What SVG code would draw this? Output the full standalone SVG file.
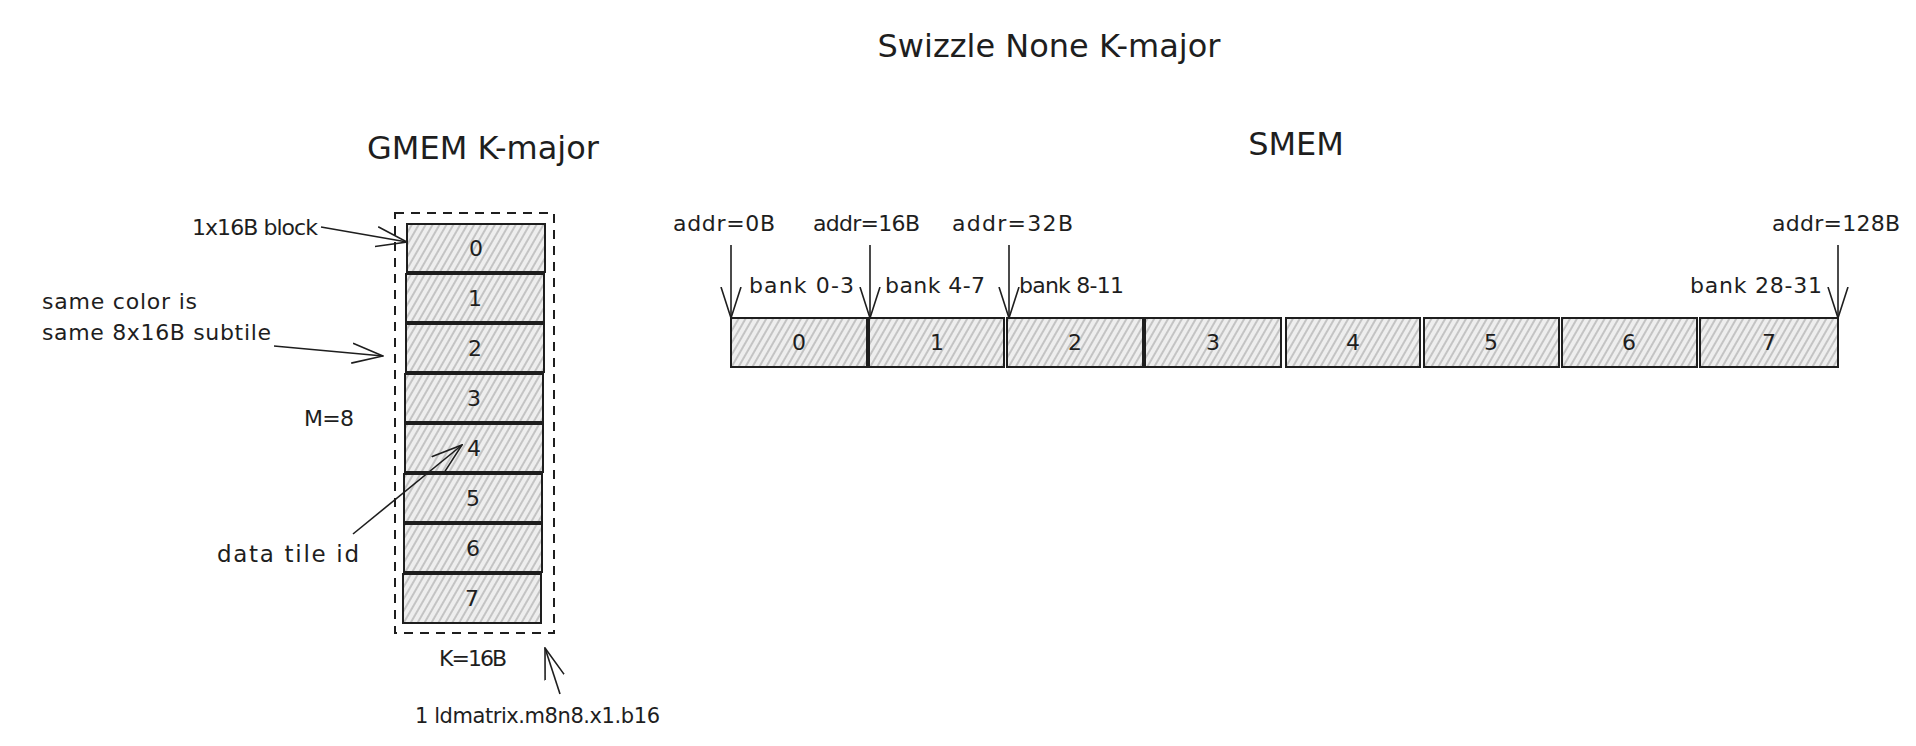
<svg xmlns="http://www.w3.org/2000/svg" width="1916" height="746" viewBox="0 0 1916 746">
<style>
text{font-family:"DejaVu Sans","Liberation Sans",sans-serif;fill:#1e1e1e}
.t{font-size:32px}
.s{font-size:22px}
.n{font-size:22px;text-anchor:middle}
.blk{fill:url(#hatch);stroke:#1e1e1e;stroke-width:2}
.dash{fill:none;stroke:#1e1e1e;stroke-width:2;stroke-dasharray:9 7}
.c{fill:none;stroke:#1e1e1e;stroke-width:1.6;marker-end:url(#ah)}
</style>
<defs>
<pattern id="hatch" patternUnits="userSpaceOnUse" width="6" height="12" patternTransform="rotate(30)">
<rect width="6" height="12" fill="#eeeeee"/>
<line x1="1" y1="0" x2="1" y2="12" stroke="#8f8f8f" stroke-width="0.9"/>
</pattern>
<marker id="ah" markerUnits="userSpaceOnUse" viewBox="0 0 32 22" markerWidth="32" markerHeight="22" refX="31" refY="11" orient="auto">
<path d="M0,1 L31,11 L0,21" fill="none" stroke="#1e1e1e" stroke-width="1.6"/>
</marker>
</defs>
<rect width="1916" height="746" fill="#ffffff"/>

<g id="title"><text class="t" x="1049" y="57" text-anchor="middle">Swizzle None K-major</text></g>
<g id="gmem-title"><text class="t" x="483" y="159" text-anchor="middle">GMEM K-major</text></g>
<g id="smem-title"><text class="t" x="1296" y="155" text-anchor="middle">SMEM</text></g>

<g id="gmem-tile"><rect class="dash" x="395" y="213" width="159" height="420"/></g>

<g id="gblock-0"><rect class="blk" x="407" y="224" width="138" height="48"/><text class="n" x="476" y="256">0</text></g>
<g id="gblock-1"><rect class="blk" x="406" y="274" width="138" height="48"/><text class="n" x="475" y="306">1</text></g>
<g id="gblock-2"><rect class="blk" x="406" y="324" width="138" height="48"/><text class="n" x="475" y="356">2</text></g>
<g id="gblock-3"><rect class="blk" x="405" y="374" width="138" height="48"/><text class="n" x="474" y="406">3</text></g>
<g id="gblock-4"><rect class="blk" x="405" y="424" width="138" height="48"/><text class="n" x="474" y="456">4</text></g>
<g id="gblock-5"><rect class="blk" x="404" y="474" width="138" height="48"/><text class="n" x="473" y="506">5</text></g>
<g id="gblock-6"><rect class="blk" x="404" y="524" width="138" height="48"/><text class="n" x="473" y="556">6</text></g>
<g id="gblock-7"><rect class="blk" x="403" y="574" width="138" height="49"/><text class="n" x="472" y="606">7</text></g>

<g id="sblock-0"><rect class="blk" x="731" y="318" width="136" height="49"/><text class="n" x="799" y="350">0</text></g>
<g id="sblock-1"><rect class="blk" x="869" y="318" width="135" height="49"/><text class="n" x="937" y="350">1</text></g>
<g id="sblock-2"><rect class="blk" x="1007" y="318" width="136" height="49"/><text class="n" x="1075" y="350">2</text></g>
<g id="sblock-3"><rect class="blk" x="1145" y="318" width="136" height="49"/><text class="n" x="1213" y="350">3</text></g>
<g id="sblock-4"><rect class="blk" x="1286" y="318" width="134" height="49"/><text class="n" x="1353" y="350">4</text></g>
<g id="sblock-5"><rect class="blk" x="1424" y="318" width="135" height="49"/><text class="n" x="1491" y="350">5</text></g>
<g id="sblock-6"><rect class="blk" x="1562" y="318" width="135" height="49"/><text class="n" x="1629" y="350">6</text></g>
<g id="sblock-7"><rect class="blk" x="1700" y="318" width="138" height="49"/><text class="n" x="1769" y="350">7</text></g>

<g id="labels">
<text class="s" x="192" y="235" textLength="126">1x16B block</text>
<text class="s" x="42" y="309" textLength="155">same color is</text>
<text class="s" x="42" y="340" textLength="229">same 8x16B subtile</text>
<text class="s" x="304" y="426" textLength="50">M=8</text>
<text class="s" x="217" y="562" textLength="142" style="font-size:23px">data tile id</text>
<text class="s" x="439" y="666" textLength="68">K=16B</text>
<text class="s" x="415" y="723" textLength="245" style="font-size:21px">1 ldmatrix.m8n8.x1.b16</text>
<text class="s" x="673" y="231" textLength="102">addr=0B</text>
<text class="s" x="813" y="231" textLength="107">addr=16B</text>
<text class="s" x="952" y="231" textLength="121">addr=32B</text>
<text class="s" x="1772" y="231" textLength="128">addr=128B</text>
<text class="s" x="749" y="293" textLength="105">bank 0-3</text>
<text class="s" x="885" y="293" textLength="100">bank 4-7</text>
<text class="s" x="1019" y="293" textLength="105">bank 8-11</text>
<text class="s" x="1690" y="293" textLength="132">bank 28-31</text>
</g>

<g id="connectors">
<path class="c" d="M321,227 L407,242"/>
<path class="c" d="M274,346 L383,356"/>
<path class="c" d="M353,534 L462,445"/>
<path class="c" d="M560,694 L545,648"/>
<path class="c" d="M731,245 L731,318"/>
<path class="c" d="M870,245 L870,318"/>
<path class="c" d="M1009,245 L1009,318"/>
<path class="c" d="M1838,245 L1838,318"/>
</g>
</svg>
